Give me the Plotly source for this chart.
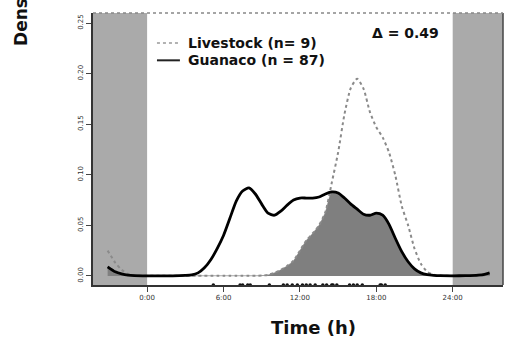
import numpy as np
import plotly.graph_objects as go

# ---- data ----
hours = [-3.1, -2.5, -2.0, -1.5, -1.0, 0.0, 1.0, 2.0, 3.0, 3.5, 4.0, 4.5, 5.0, 5.5,
         6.0, 6.5, 7.0, 7.5, 8.0, 8.5, 9.0, 9.5, 10.0, 10.5, 11.0, 11.5, 12.0, 12.5,
         13.0, 13.5, 14.0, 14.5, 15.0, 15.5, 16.0, 16.5, 17.0, 17.5, 18.0, 18.5,
         19.0, 19.5, 20.0, 20.5, 21.0, 21.5, 22.0, 22.5, 23.0, 24.0, 25.0, 26.0,
         26.5, 26.9]

guanaco = [0.009, 0.004, 0.002, 0.0008, 0.0003, 0.0001, 0.0001, 0.0001, 0.0005,
           0.001, 0.003, 0.008, 0.016, 0.027, 0.040, 0.057, 0.074, 0.084, 0.087,
           0.081, 0.071, 0.062, 0.060, 0.064, 0.070, 0.075, 0.077, 0.077, 0.077,
           0.078, 0.081, 0.083, 0.082, 0.077, 0.071, 0.066, 0.061, 0.060, 0.062,
           0.060, 0.051, 0.037, 0.024, 0.014, 0.007, 0.003, 0.0012, 0.0005, 0.0002,
           0.0001, 0.0002, 0.0007, 0.0015, 0.003]

livestock = [0.025, 0.013, 0.006, 0.002, 0.0006, 0.0001, 0.0001, 0.0001, 0.0001,
             0.0001, 0.0001, 0.0001, 0.0001, 0.0001, 0.0001, 0.0001, 0.0001, 0.0001,
             0.0001, 0.0001, 0.0003, 0.001, 0.003, 0.006, 0.010, 0.015, 0.025, 0.035,
             0.042, 0.050, 0.063, 0.092, 0.122, 0.160, 0.186, 0.195, 0.185, 0.162,
             0.147, 0.137, 0.122, 0.099, 0.069, 0.050, 0.027, 0.012, 0.004, 0.0012,
             0.0003, 0.0001, 0.0001, 0.0002, 0.0004, 0.001]

rug_guanaco = [5.2, 7.3, 7.5, 7.9, 8.1, 9.6, 10.7, 11.0, 11.4, 11.8, 12.2, 12.5,
               12.8, 13.2, 13.8, 14.1, 14.5, 14.6, 14.9, 15.9, 16.2, 16.5, 16.9,
               18.3, 18.4, 18.7]

night_periods = [(-4.25, 0.0), (24.0, 27.95)]
x_tickvals = [0, 6, 12, 18, 24]
x_ticktext = ["0:00", "6:00", "12:00", "18:00", "24:00"]
y_tickvals = [0.00, 0.05, 0.10, 0.15, 0.20, 0.25]
y_ticktext = ["0.00", "0.05", "0.10", "0.15", "0.20", "0.25"]
legend_labels = ["Livestock (n= 9)", "Guanaco (n = 87)"]
overlap_label = "\u0394 = 0.49"

XR = [-4.25, 27.95]
YR = [-0.009, 0.26]

overlap = np.minimum(np.array(guanaco), np.array(livestock))

fig = go.Figure()

# overlap area
fig.add_trace(go.Scatter(x=hours, y=overlap, mode="lines", fill="tozeroy",
                         fillcolor="#7f7f7f", line=dict(color="#7f7f7f", width=0.5,
                         shape="spline", smoothing=0.6), hoverinfo="skip",
                         showlegend=False))
# livestock
fig.add_trace(go.Scatter(x=hours, y=livestock, mode="lines",
                         line=dict(color="#8a8a8a", width=2, dash="dot",
                                   shape="spline", smoothing=0.6),
                         showlegend=False))
# guanaco
fig.add_trace(go.Scatter(x=hours, y=guanaco, mode="lines",
                         line=dict(color="#000000", width=2.8,
                                   shape="spline", smoothing=0.6),
                         showlegend=False))
# rug
fig.add_trace(go.Scatter(x=rug_guanaco, y=[YR[0]] * len(rug_guanaco), mode="markers",
                         marker=dict(color="#111111", size=3.5, symbol="circle"),
                         cliponaxis=False, showlegend=False))

shapes = []
for a, b in night_periods:
    shapes.append(dict(type="rect", xref="x", yref="paper", x0=a, x1=b, y0=0, y1=1,
                       fillcolor="#aaaaaa", line=dict(width=0), layer="below"))
# right frame
shapes.append(dict(type="line", xref="paper", yref="paper", x0=1, x1=1, y0=0, y1=1,
                   line=dict(color="#444444", width=1.5)))
# top frame (dotted)
shapes.append(dict(type="line", xref="paper", yref="paper", x0=0, x1=1, y0=1, y1=1,
                   line=dict(color="#888888", width=1.5, dash="dot")))
# legend samples
shapes.append(dict(type="line", xref="paper", yref="paper", x0=0.156, x1=0.212,
                   y0=0.890, y1=0.890, line=dict(color="#999999", width=1.5, dash="dot")))
shapes.append(dict(type="line", xref="paper", yref="paper", x0=0.156, x1=0.212,
                   y0=0.826, y1=0.826, line=dict(color="#222222", width=2)))

annotations = [
    dict(xref="paper", yref="paper", x=0.226, y=0.890, text="<b>" + legend_labels[0] + "</b>",
         showarrow=False, xanchor="left", yanchor="middle",
         font=dict(family="DejaVu Sans", size=14, color="#111111")),
    dict(xref="paper", yref="paper", x=0.226, y=0.826, text="<b>" + legend_labels[1] + "</b>",
         showarrow=False, xanchor="left", yanchor="middle",
         font=dict(family="DejaVu Sans", size=14, color="#111111")),
    dict(xref="paper", yref="paper", x=0.763, y=0.928, text="<b>" + overlap_label + "</b>",
         showarrow=False, xanchor="center", yanchor="middle",
         font=dict(family="DejaVu Sans", size=14, color="#111111")),
    dict(xref="paper", yref="paper", x=0.537, y=-0.158, text="<b>Time (h)</b>",
         showarrow=False, xanchor="center", yanchor="middle",
         font=dict(family="DejaVu Sans", size=18, color="#111111")),
    dict(xref="paper", yref="paper", x=-0.176, y=0.873, text="<b>Density</b>",
         showarrow=False, xanchor="center", yanchor="bottom", textangle=-90,
         font=dict(family="DejaVu Sans", size=17, color="#111111")),
]

fig.update_layout(
    width=510, height=341,
    margin=dict(l=93, r=7, t=13, b=56),
    plot_bgcolor="white", paper_bgcolor="white",
    shapes=shapes, annotations=annotations,
    xaxis=dict(range=XR, tickvals=x_tickvals, ticktext=x_ticktext,
               showgrid=False, zeroline=False, showline=True, linecolor="#333333",
               linewidth=2, ticks="outside", ticklen=5, tickcolor="#444444",
               tickfont=dict(family="DejaVu Sans", size=7, color="#333333")),
    yaxis=dict(range=YR, tickvals=y_tickvals, ticktext=y_ticktext, tickangle=-90,
               showgrid=False, zeroline=False, showline=True, linecolor="#333333",
               linewidth=2, ticks="outside", ticklen=5, tickcolor="#444444",
               tickfont=dict(family="DejaVu Sans", size=7, color="#333333")),
    font=dict(family="DejaVu Sans"),
)

fig.write_html("out.html", config={"displayModeBar": False},
               post_script="document.body.style.margin='0px';")
